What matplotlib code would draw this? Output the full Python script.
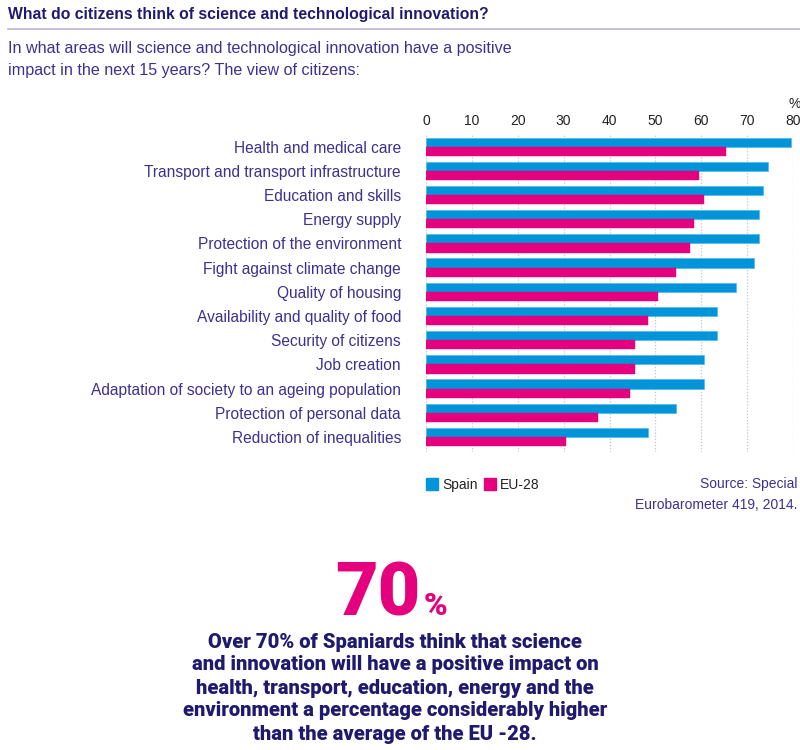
import numpy as np
import matplotlib
matplotlib.use("Agg")
import matplotlib.pyplot as plt
from matplotlib.lines import Line2D

# --- data ---
categories = [
    "Health and medical care",
    "Transport and transport infrastructure",
    "Education and skills",
    "Energy supply",
    "Protection of the environment",
    "Fight against climate change",
    "Quality of housing",
    "Availability and quality of food",
    "Security of citizens",
    "Job creation",
    "Adaptation of society to an ageing population",
    "Protection of personal data",
    "Reduction of inequalities",
]
spain = [79.5, 74.5, 73.5, 72.5, 72.5, 71.5, 67.5, 63.5, 63.5, 60.5, 60.5, 54.5, 48.5]
eu28 = [65.5, 59.5, 60.5, 58.5, 57.5, 54.5, 50.5, 48.5, 45.5, 45.5, 44.5, 37.5, 30.5]
series_names = ["Spain", "EU-28"]
ticks = [0, 10, 20, 30, 40, 50, 60, 70, 80]

BLUE = "#0095db"
MAGENTA = "#e5007d"
NAVY = "#201a6e"
PURPLE = "#3d3190"
GRID = "#c4c4c4"

W, H = 800, 750
plt.rcParams["font.family"] = ["Liberation Sans", "DejaVu Sans"]

fig = plt.figure(figsize=(W / 100, H / 100), dpi=100)


def fx(px):
    return px / W


def fy(py):
    return 1 - py / H


# axes placed in pixel terms
ax_left, ax_right = 426, 793
ax_top, ax_bot = 134.6, 452
ax = fig.add_axes([fx(ax_left), fy(ax_bot), (ax_right - ax_left) / W, (ax_bot - ax_top) / H])

y = np.arange(len(categories))
bh = 0.38
ax.barh(y - bh / 2, spain, height=bh, color=BLUE, edgecolor="#52b8ea", linewidth=0.5, zorder=3)
ax.barh(y + bh / 2, eu28, height=bh, color=MAGENTA, edgecolor=MAGENTA, linewidth=0.3, zorder=3)

ax.set_xlim(0, 80)
ax.set_ylim(12.62, -0.5)
ax.set_xticks(ticks)
ax.xaxis.tick_top()
ax.tick_params(axis="x", length=0, pad=5, labelsize=10, labelcolor="#222222")
ax.set_yticks(y)
ax.set_yticklabels(categories)
ax.tick_params(axis="y", length=0, pad=18, labelsize=11.2, labelcolor=PURPLE)
for s in ax.spines.values():
    s.set_visible(False)
ax.grid(axis="x", color=GRID, linestyle=(0, (1, 1.5)), linewidth=0.9, zorder=0)
ax.grid(axis="y", visible=False)

fig.text(fx(795), fy(104), "%", ha="center", va="center", fontsize=10, color="#222222")

# legend
handles = [Line2D([0], [0], marker="s", linestyle="none", markersize=8, color=c)
           for c in (BLUE, MAGENTA)]
fig.legend(handles, series_names, loc="center left", bbox_to_anchor=(fx(421), fy(485)),
           ncol=2, frameon=False, fontsize=10, handlelength=0.8, handletextpad=0.3,
           columnspacing=0.5, labelcolor="#222222", borderaxespad=0)

fig.text(fx(797), fy(484), "Source: Special", ha="right", va="center", fontsize=10, color=PURPLE)
fig.text(fx(797), fy(505), "Eurobarometer 419, 2014.", ha="right", va="center", fontsize=10, color=PURPLE)

# header
fig.text(fx(8), fy(14), "What do citizens think of science and technological innovation?",
         ha="left", va="center", fontsize=11.3, fontweight="bold", color=NAVY)
fig.add_artist(Line2D([fx(8), fx(800)], [fy(29), fy(29)], color="#b9b5d9", linewidth=1.2))
fig.text(fx(8), fy(48), "In what areas will science and technological innovation have a positive",
         ha="left", va="center", fontsize=11.6, color=PURPLE)
fig.text(fx(8), fy(70), "impact in the next 15 years? The view of citizens:",
         ha="left", va="center", fontsize=11.6, color=PURPLE)

# callout
heavy = ["Roboto", "Liberation Sans", "DejaVu Sans"]
fig.text(fx(420), fy(615), "70", ha="right", va="baseline", fontsize=53, fontweight=900,
         family=heavy, color=MAGENTA)
fig.text(fx(424), fy(615), "%", ha="left", va="baseline", fontsize=23, fontweight=900,
         family=heavy, color=MAGENTA)

para = ["Over 70% of Spaniards think that science",
        "and innovation will have a positive impact on",
        "health, transport, education, energy and the",
        "environment a percentage considerably higher",
        "than the average of the EU -28."]
for i, line in enumerate(para):
    fig.text(fx(395), fy(642 + i * 23), line, ha="center", va="center", fontsize=14.5,
             fontweight=900, family=heavy, color=NAVY)

fig.savefig("out.png", dpi=100)
